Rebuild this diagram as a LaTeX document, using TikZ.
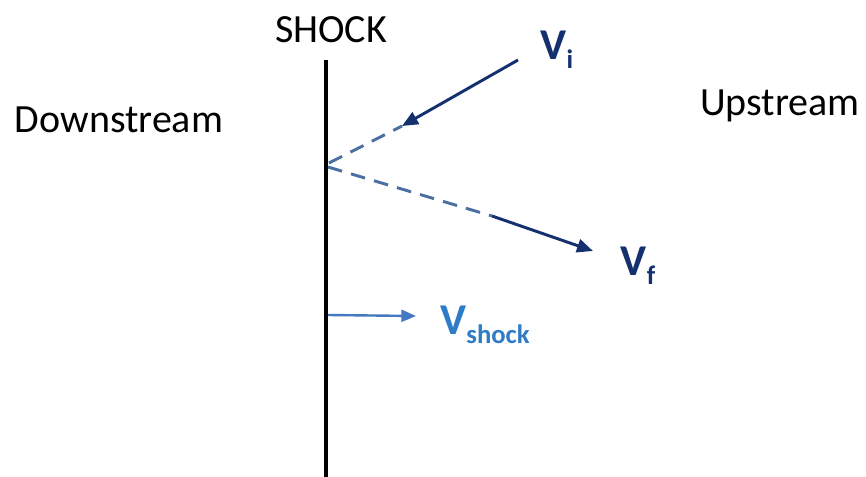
\documentclass[tikz,border=0pt]{standalone}
\usepackage{fontspec}
\setmainfont{Carlito}
\usetikzlibrary{arrows.meta}
\definecolor{navy}{HTML}{14306E}
\definecolor{dashblue}{HTML}{4A6FA0}
\definecolor{shockblue}{HTML}{4478C0}
\definecolor{labelblue}{HTML}{2E7BC6}
\newcommand{\vsub}[1]{\bfseries V\raisebox{-0.2em}{\fontsize{20}{20}\selectfont #1}}
\begin{document}
\begin{tikzpicture}[
x=0.75pt, y=-0.75pt,
every node/.style={font=\fontsize{30}{32}\selectfont, inner sep=0pt},
vlabel/.style={font=\fontsize{33}{35}\selectfont},
solidarrow/.style={navy, line width=2.2pt, -{Triangle[length=12pt, width=10pt]}},
dashpath/.style={dashblue, line width=2.2pt, dash pattern=on 11pt off 7pt}
]
\useasboundingbox (0,0) rectangle (866,477);

\node (shock) at (331,30) {SHOCK};
\node (down) at (119,120) {Downstream};
\node (up) at (780,106) {Upstream};

\coordinate (top) at (326,60);
\coordinate (bottom) at (326,477);
\draw[line width=3.6pt] (top) -- (bottom);

\coordinate (hitin) at (329,163);
\coordinate (hitout) at (328,167);
\coordinate (vistart) at (518,60);
\coordinate (vitip) at (402,126);
\coordinate (vfbreak) at (492,216);
\coordinate (vftip) at (593,251);

\draw[dashpath] (hitin) -- (vitip);
\draw[solidarrow] (vistart) -- (vitip);
\draw[dashpath] (hitout) -- (vfbreak);
\draw[solidarrow] (vfbreak) -- (vftip);

\coordinate (vsstart) at (328,315);
\coordinate (vstip) at (416,316);
\draw[shockblue, line width=1.8pt, -{Triangle[length=11pt, width=9pt]}] (vsstart) -- (vstip);

\node[vlabel, navy] (vi) at (557,50) {\vsub{i}};
\node[vlabel, navy] (vf) at (638,266) {\vsub{f}};
\node[vlabel, labelblue] (vshock) at (485,325) {\vsub{shock}};

\end{tikzpicture}
\end{document}
